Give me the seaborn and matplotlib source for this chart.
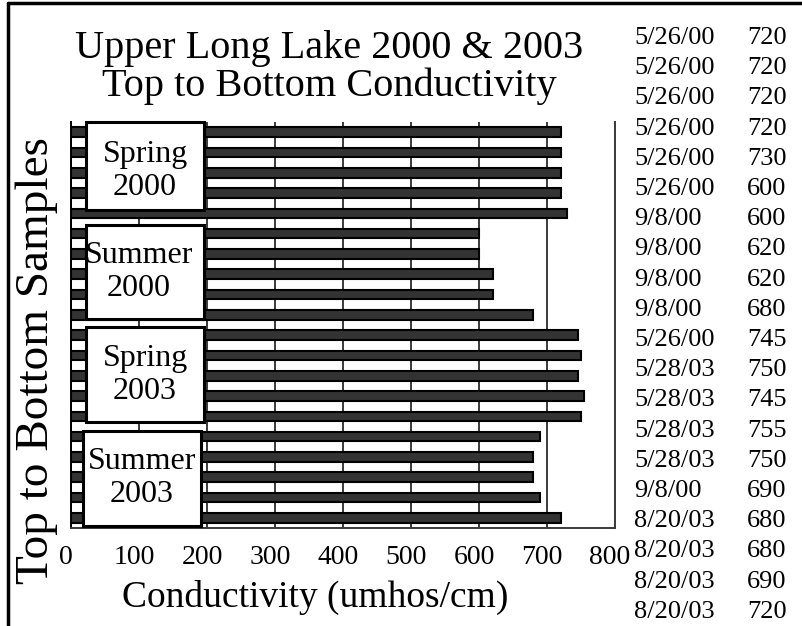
import matplotlib
matplotlib.use("Agg")
import matplotlib.pyplot as plt
import matplotlib.transforms as mtransforms
import seaborn as sns
import pandas as pd
from matplotlib.patches import Rectangle

# ---- data ----
sample_dates = ["5/26/00", "5/26/00", "5/26/00", "5/26/00", "5/26/00",
                "5/26/00", "9/8/00", "9/8/00", "9/8/00", "9/8/00",
                "5/26/00", "5/28/03", "5/28/03", "5/28/03", "5/28/03",
                "9/8/00", "8/20/03", "8/20/03", "8/20/03", "8/20/03"]
conductivity = [720, 720, 720, 720, 730, 600, 600, 620, 620, 680,
                745, 750, 745, 755, 750, 690, 680, 680, 690, 720]
sample_ids = [str(i + 1) for i in range(len(conductivity))]
season_labels = ["Spring\n2000", "Summer\n2000", "Spring\n2003", "Summer\n2003"]
x_ticks = [0, 100, 200, 300, 400, 500, 600, 700, 800]

df = pd.DataFrame({"sample": sample_ids, "conductivity": conductivity})

sns.set_style("white")
plt.rcParams["font.family"] = ["Liberation Serif", "DejaVu Serif"]
plt.rcParams["text.color"] = "black"
plt.rcParams["axes.labelcolor"] = "black"
plt.rcParams["xtick.color"] = "black"

W, H = 803, 626
fig = plt.figure(figsize=(W / 100, H / 100), dpi=100)
ax = fig.add_axes([71 / W, 1 - 528 / H, 544 / W, 406 / H])

sns.barplot(data=df, x="conductivity", y="sample", orient="h", order=sample_ids,
            color="#333333", saturation=1, edgecolor="black", linewidth=1.5,
            width=0.47, ax=ax, zorder=3)

ax.set_xlim(0, 800)
ax.set_ylim(19.5, -0.5)
ax.set_xticks(x_ticks)
ax.set_xticklabels([str(t) for t in x_ticks], fontsize=20)
ax.set_yticks([])
ax.tick_params(axis="x", length=0, pad=12)
shift = mtransforms.ScaledTranslation(-5 / 100, 0, fig.dpi_scale_trans)
for lbl in ax.get_xticklabels():
    lbl.set_transform(lbl.get_transform() + shift)
ax.xaxis.grid(True, color="#3a3a3a", linewidth=1.4, zorder=0)
ax.yaxis.grid(False)
ax.set_axisbelow(True)
for side in ["left", "right", "bottom"]:
    ax.spines[side].set_visible(True)
    ax.spines[side].set_color("#3a3a3a")
    ax.spines[side].set_linewidth(1.4)
ax.spines["top"].set_visible(False)
ax.spines["left"].set_color("black")
ax.set_xlabel("")
ax.set_ylabel("")

# Axis titles placed like the reference
fig.text(315 / W, 1 - 597 / H, "Conductivity (umhos/cm)", ha="center",
         va="center", fontsize=27)
fig.text(37 / W, 1 - 360 / H, "Top to Bottom Samples", ha="center",
         va="center", rotation=90, fontsize=34)

# Season label boxes (data units: x in conductivity, y in sample rows)
boxes = [(22, -0.5, 174, 4.33), (22, 4.57, 174, 4.63),
         (22, 9.6, 174, 4.7), (17.6, 14.7, 174, 4.7)]
text_x = [109, 100, 109, 104]
text_dy = [0.25, 0.0, 0.0, 0.0]
for (bx, by, bw, bh), lab, tx, dy in zip(boxes, season_labels, text_x, text_dy):
    ax.add_patch(Rectangle((bx, by), bw, bh, facecolor="white",
                           edgecolor="black", linewidth=2.2, zorder=5,
                           clip_on=False))
    ax.text(tx, by + bh / 2 + dy, lab, ha="center", va="center", fontsize=23,
            linespacing=1.2, zorder=6)

# Title
fig.text(329 / W, 1 - 58 / H, "Upper Long Lake 2000 & 2003",
         ha="center", va="baseline", fontsize=29)
fig.text(329 / W, 1 - 96 / H, "Top to Bottom Conductivity",
         ha="center", va="baseline", fontsize=29)

# Data table on the right
for i, (d, v) in enumerate(zip(sample_dates, conductivity)):
    yc = 38 + i * 30.2
    fig.text(634 / W, 1 - yc / H, d, ha="left", va="center", fontsize=19)
    fig.text(747 / W, 1 - yc / H, str(v), ha="left", va="center", fontsize=19)

# Figure frame (left and top edges visible)
fig.add_artist(plt.Line2D([8 / W, 8 / W], [0, 1 - 3 / H],
                          color="black", linewidth=2.5, transform=fig.transFigure))
fig.add_artist(plt.Line2D([8 / W, 1], [1 - 3 / H, 1 - 3 / H],
                          color="black", linewidth=2.5, transform=fig.transFigure))

fig.savefig("out.png", dpi=100)
